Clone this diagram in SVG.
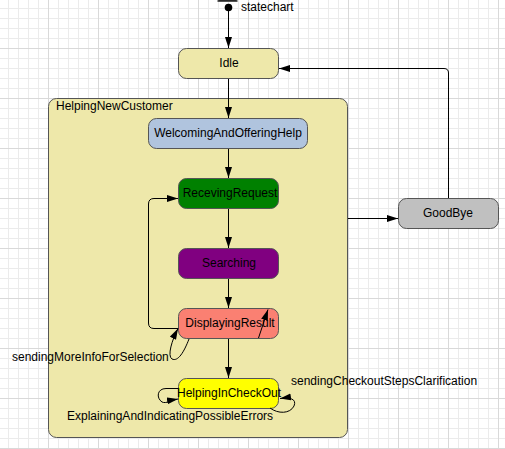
<svg xmlns="http://www.w3.org/2000/svg" width="505" height="449" viewBox="0 0 505 449">
<defs>
<pattern id="grid" patternUnits="userSpaceOnUse" x="-2" y="-2" width="50" height="50">
<rect width="50" height="50" fill="#ffffff"/>
<rect x="10" y="0" width="1" height="50" fill="#ebebeb"/>
<rect x="20" y="0" width="1" height="50" fill="#ebebeb"/>
<rect x="30" y="0" width="1" height="50" fill="#ebebeb"/>
<rect x="40" y="0" width="1" height="50" fill="#ebebeb"/>
<rect x="0" y="10" width="50" height="1" fill="#ebebeb"/>
<rect x="0" y="20" width="50" height="1" fill="#ebebeb"/>
<rect x="0" y="30" width="50" height="1" fill="#ebebeb"/>
<rect x="0" y="40" width="50" height="1" fill="#ebebeb"/>
<rect x="0" y="0" width="1" height="50" fill="#d9d9d9"/>
<rect x="0" y="0" width="50" height="1" fill="#d9d9d9"/>
</pattern>
<marker id="arrow" markerUnits="userSpaceOnUse" viewBox="0 0 11 8" refX="11" refY="4" markerWidth="11" markerHeight="8" orient="auto">
<path d="M0,0.5 L11,4 L0,7.5 z" fill="#000"/>
</marker>
</defs>
<style>
.node rect { stroke: #555555; stroke-width: 1; }
.node text, .lbl { font-family: "Liberation Sans", Arial, sans-serif; font-size: 12px; fill: #000; }
.node text.c { text-anchor: middle; }
.conn path { fill: none; stroke: #000; stroke-width: 1; marker-end: url(#arrow); }
</style>
<rect x="0" y="0" width="505" height="449" fill="url(#grid)"/>

<g id="initial" class="node">
<rect x="218" y="0" width="19" height="1.5" fill="#000" stroke="none"/>
<circle cx="228.5" cy="7.5" r="3.8" fill="#000"/>
<text class="lbl" x="241" y="11">statechart</text>
</g>

<g id="HelpingNewCustomer" class="node">
<rect x="48.5" y="98.5" width="299" height="339" rx="8" fill="#eee8aa"/>
<text x="56" y="110">HelpingNewCustomer</text>
</g>

<g id="Idle" class="node">
<rect x="178.5" y="48.5" width="100" height="30" rx="8" fill="#eee8aa"/>
<text class="c" x="229" y="67">Idle</text>
</g>

<g id="WelcomingAndOfferingHelp" class="node">
<rect x="148.5" y="118.5" width="159" height="30" rx="8" fill="#b0c4de"/>
<text class="c" x="228" y="137">WelcomingAndOfferingHelp</text>
</g>

<g id="RecevingRequest" class="node">
<rect x="178.5" y="178.5" width="100" height="30" rx="8" fill="#008000"/>
<text class="c" x="230" y="197">RecevingRequest</text>
</g>

<g id="Searching" class="node">
<rect x="178.5" y="248.5" width="100" height="30" rx="8" fill="#800080"/>
<text class="c" x="229" y="267">Searching</text>
</g>

<g id="DisplayingResult" class="node">
<rect x="178.5" y="308.5" width="100" height="30" rx="8" fill="#fa8072"/>
<text class="c" x="230" y="327">DisplayingResult</text>
</g>

<g id="HelpingInCheckOut" class="node">
<rect x="178.5" y="378.5" width="100" height="30" rx="8" fill="#ffff00"/>
<text class="c" x="229" y="397">HelpingInCheckOut</text>
</g>

<g id="GoodBye" class="node">
<rect x="398.5" y="198.5" width="100" height="30" rx="8" fill="#c0c0c0"/>
<text class="c" x="448" y="217">GoodBye</text>
</g>

<g id="connectors" class="conn">
<path d="M228.5,11 L228.5,48"/>
<path d="M228.5,79 L228.5,118"/>
<path d="M228.5,149 L228.5,178"/>
<path d="M228.5,209 L228.5,248"/>
<path d="M228.5,279 L228.5,308"/>
<path d="M228.5,339 L228.5,378"/>
<path d="M348,218.5 L398,218.5"/>
<path d="M448.5,198 L448.5,73 Q448.5,68.5 444,68.5 L279,68.5"/>
<path d="M178,328.5 L154,328.5 Q148.5,328.5 148.5,323 L148.5,204 Q148.5,198.5 154,198.5 L178,198.5"/>
<path d="M189,339 C184,352 178,362 172,359 C167,356 172,340 178,328.5"/>
<path d="M258.5,338 L268,309.5"/>
<path d="M178,388.5 L166,388.5 C157,388.5 156,398 162,402 C166,404 172,400 178,399"/>
<path d="M270,408 C278,414 290,414 294,406 C297,399 290,397 280,398.5"/>
</g>

<g id="labels">
<text class="lbl" x="12" y="361">sendingMoreInfoForSelection</text>
<text class="lbl" x="67" y="420">ExplainingAndIndicatingPossibleErrors</text>
<text class="lbl" x="291" y="385">sendingCheckoutStepsClarification</text>
</g>
</svg>
